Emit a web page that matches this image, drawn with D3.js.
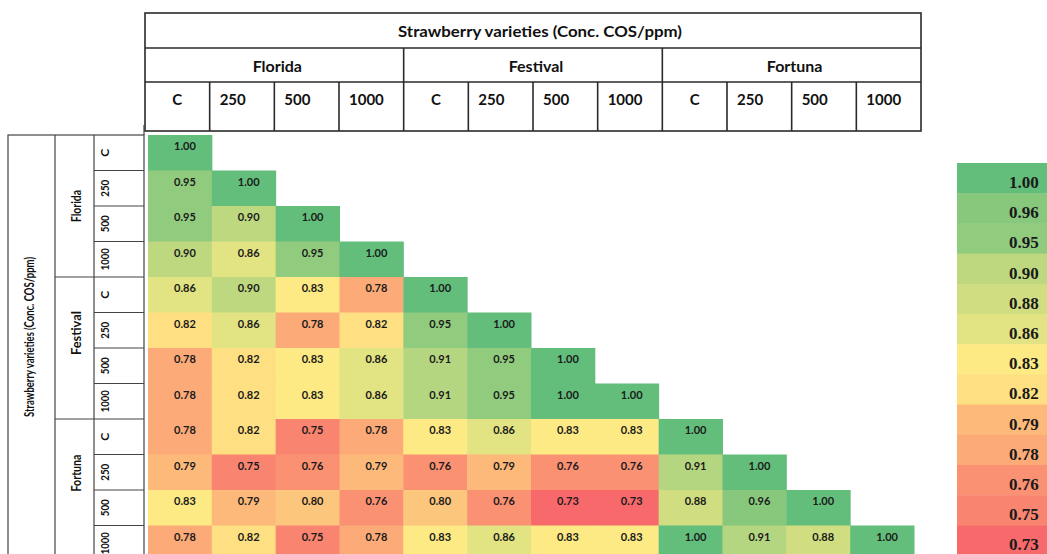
<!DOCTYPE html>
<html>
<head>
<meta charset="utf-8">
<script src="https://cdn.jsdelivr.net/npm/d3@7"></script>
<style>
  body { margin: 0; background: #fff; }
  svg { display: block; }
</style>
</head>
<body>
<svg class="chart"></svg>
<script>
var varieties = ["Florida", "Festival", "Fortuna"];
var concs = ["C", "250", "500", "1000"];
var title = "Strawberry varieties (Conc. COS/ppm)";

// lower triangle, row by row
var matrix = [
  [1.00],
  [0.95, 1.00],
  [0.95, 0.90, 1.00],
  [0.90, 0.86, 0.95, 1.00],
  [0.86, 0.90, 0.83, 0.78, 1.00],
  [0.82, 0.86, 0.78, 0.82, 0.95, 1.00],
  [0.78, 0.82, 0.83, 0.86, 0.91, 0.95, 1.00],
  [0.78, 0.82, 0.83, 0.86, 0.91, 0.95, 1.00, 1.00],
  [0.78, 0.82, 0.75, 0.78, 0.83, 0.86, 0.83, 0.83, 1.00],
  [0.79, 0.75, 0.76, 0.79, 0.76, 0.79, 0.76, 0.76, 0.91, 1.00],
  [0.83, 0.79, 0.80, 0.76, 0.80, 0.76, 0.73, 0.73, 0.88, 0.96, 1.00],
  [0.78, 0.82, 0.75, 0.78, 0.83, 0.86, 0.83, 0.83, 1.00, 0.91, 0.88, 1.00]
];

var legendValues = [1.00, 0.96, 0.95, 0.90, 0.88, 0.86, 0.83, 0.82, 0.79, 0.78, 0.76, 0.75, 0.73];

var width = 1047,
    height = 554;

var svg = d3.select(".chart")
    .attr("width", width)
    .attr("height", height);

// one key per row/column: variety + conc
var keys = [];
varieties.forEach(function(v) {
  concs.forEach(function(c) { keys.push({variety: v, conc: c, id: v + "_" + c}); });
});
var ids = keys.map(function(k) { return k.id; });

var color = d3.scaleLinear()
    .domain([0.73, 0.828, 1.00])
    .range(["#F8696B", "#FFEB84", "#63BE7B"]);

var xHead = d3.scaleBand().domain(ids).range([145, 921]);
var xCell = d3.scaleBand().domain(ids).range([148, 914]);
var y = d3.scaleBand().domain(ids).range([135, 561]);

var lineColor = "#2a2a2a";
var font = "Lato, 'Open Sans', sans-serif";

// ---- top header table
var head = svg.append("g");
var hTitle = [13, 48], hVar = [48, 82], hConc = [82, 131];

head.append("rect")
    .attr("x", xHead.range()[0]).attr("y", hTitle[0])
    .attr("width", xHead.range()[1] - xHead.range()[0])
    .attr("height", hConc[1] - hTitle[0])
    .attr("fill", "none").attr("stroke", lineColor).attr("stroke-width", 1.6);

[hVar[0], hConc[0]].forEach(function(yy) {
  head.append("line")
      .attr("x1", xHead.range()[0]).attr("x2", xHead.range()[1])
      .attr("y1", yy).attr("y2", yy)
      .attr("stroke", lineColor).attr("stroke-width", 1.6);
});

head.append("text")
    .attr("x", (xHead.range()[0] + xHead.range()[1]) / 2 + 7)
    .attr("y", 37)
    .attr("text-anchor", "middle")
    .attr("font-family", font).attr("font-weight", "bold").attr("font-size", 16)
    .attr("textLength", 284).attr("lengthAdjust", "spacingAndGlyphs")
    .attr("fill", "#111")
    .text(title);

varieties.forEach(function(v, i) {
  var x0 = xHead(v + "_C"), x1 = xHead(v + "_1000") + xHead.bandwidth();
  if (i > 0) {
    head.append("line")
        .attr("x1", x0).attr("x2", x0).attr("y1", hVar[0]).attr("y2", hConc[1])
        .attr("stroke", lineColor).attr("stroke-width", 1.6);
  }
  head.append("text")
      .attr("x", (x0 + x1) / 2 + 3)
      .attr("y", 72)
      .attr("text-anchor", "middle")
      .attr("font-family", font).attr("font-weight", "bold").attr("font-size", 16)
      .attr("fill", "#111")
      .text(v);
});

keys.forEach(function(k) {
  var x0 = xHead(k.id);
  if (k.conc != "C") {
    head.append("line")
        .attr("x1", x0).attr("x2", x0).attr("y1", hConc[0]).attr("y2", hConc[1])
        .attr("stroke", lineColor).attr("stroke-width", 1.6);
  }
  var centered = k.conc == "C";
  head.append("text")
      .attr("x", centered ? x0 + xHead.bandwidth() / 2 : x0 + 10)
      .attr("y", 105)
      .attr("text-anchor", centered ? "middle" : "start")
      .attr("font-family", font).attr("font-weight", "bold").attr("font-size", 15)
      .attr("fill", "#111")
      .text(k.conc);
});

// ---- left header table
var left = svg.append("g");
var colOuter = [8, 55], colVar = [55, 94], colConc = [94, 144];
var yTop = y.range()[0], yBot = y.range()[1];
var leftLine = "#444";

left.append("rect")
    .attr("x", colOuter[0]).attr("y", yTop)
    .attr("width", colConc[1] - colOuter[0]).attr("height", yBot - yTop)
    .attr("fill", "none").attr("stroke", leftLine).attr("stroke-width", 1.2);

[colVar[0], colConc[0]].forEach(function(xx) {
  left.append("line")
      .attr("x1", xx).attr("x2", xx).attr("y1", yTop).attr("y2", yBot)
      .attr("stroke", leftLine).attr("stroke-width", 1.2);
});
left.append("line")
    .attr("x1", colConc[1]).attr("x2", colConc[1]).attr("y1", yTop - 10).attr("y2", yTop)
    .attr("stroke", leftLine).attr("stroke-width", 1.2);

left.append("text")
    .attr("transform", "translate(34," + 337 + ") rotate(-90)")
    .attr("text-anchor", "middle")
    .attr("font-family", font).attr("font-weight", "bold").attr("font-size", 14)
    .attr("textLength", 160).attr("lengthAdjust", "spacingAndGlyphs")
    .attr("fill", "#111")
    .text(title);

var varLen = {Florida: 32, Festival: 44, Fortuna: 37};
var varShift = {Florida: 0, Festival: -15, Fortuna: -17};
varieties.forEach(function(v, i) {
  var y0 = y(v + "_C"), y1 = y(v + "_1000") + y.bandwidth();
  if (i > 0) {
    left.append("line")
        .attr("x1", colVar[0]).attr("x2", colConc[0]).attr("y1", y0).attr("y2", y0)
        .attr("stroke", leftLine).attr("stroke-width", 1.2);
  }
  left.append("text")
      .attr("transform", "translate(81," + ((y0 + y1) / 2 + varShift[v]) + ") rotate(-90)")
      .attr("text-anchor", "middle")
      .attr("font-family", font).attr("font-weight", "bold").attr("font-size", 13)
      .attr("textLength", varLen[v]).attr("lengthAdjust", "spacingAndGlyphs")
      .attr("fill", "#111")
      .text(v);
});

var concLen = {"C": null, "250": 17, "500": 17, "1000": 22};
keys.forEach(function(k, i) {
  var y0 = y(k.id);
  if (i > 0) {
    left.append("line")
        .attr("x1", colConc[0]).attr("x2", colConc[1]).attr("y1", y0).attr("y2", y0)
        .attr("stroke", leftLine).attr("stroke-width", 1.2);
  }
  var t = left.append("text")
      .attr("transform", "translate(109," + (y0 + y.bandwidth() / 2) + ") rotate(-90)")
      .attr("text-anchor", "middle")
      .attr("font-family", font).attr("font-weight", "bold").attr("font-size", 12)
      .attr("fill", "#111")
      .text(k.conc);
  if (concLen[k.conc]) t.attr("textLength", concLen[k.conc]).attr("lengthAdjust", "spacingAndGlyphs");
});

// ---- heatmap cells
var cells = [];
matrix.forEach(function(row, r) {
  row.forEach(function(v, c) {
    cells.push({row: ids[r], col: ids[c], value: v});
  });
});

var cell = svg.append("g").selectAll("g")
    .data(cells)
    .enter()
    .append("g")
    .attr("transform", function(d) { return "translate(" + xCell(d.col) + "," + y(d.row) + ")"; });

cell.append("rect")
    .attr("width", xCell.bandwidth() + 0.5)
    .attr("height", y.bandwidth() + 0.5)
    .attr("fill", function(d) { return color(d.value); });

cell.append("text")
    .attr("x", xCell.bandwidth() / 2 + 5)
    .attr("y", 15)
    .attr("text-anchor", "middle")
    .attr("font-family", font).attr("font-weight", "bold").attr("font-size", 11)
    .attr("fill", "#1a1a1a")
    .text(function(d) { return d.value.toFixed(2); });

// ---- legend
var ly = d3.scaleBand()
    .domain(legendValues.map(String))
    .range([163, 163 + 30.2 * legendValues.length]);

var leg = svg.append("g").selectAll("g")
    .data(legendValues)
    .enter()
    .append("g")
    .attr("transform", function(d) { return "translate(957," + ly(String(d)) + ")"; });

leg.append("rect")
    .attr("width", 100)
    .attr("height", ly.bandwidth() + 0.5)
    .attr("fill", function(d) { return color(d); });

leg.append("text")
    .attr("x", 52)
    .attr("y", ly.bandwidth() / 2 + 10)
    .attr("font-family", "'Liberation Serif', 'DejaVu Serif', serif")
    .attr("font-weight", "bold").attr("font-size", 17)
    .attr("fill", "#1a1a1a")
    .text(function(d) { return d.toFixed(2); });
</script>
</body>
</html>
